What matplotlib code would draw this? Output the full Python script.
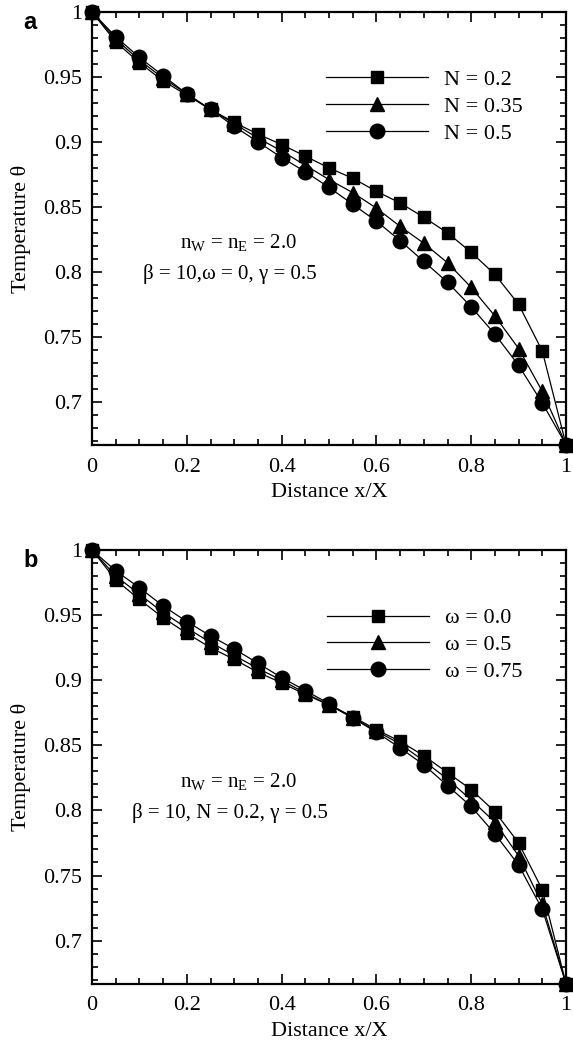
import numpy as np
import matplotlib
matplotlib.use("Agg")
import matplotlib.pyplot as plt
from matplotlib.ticker import MultipleLocator, FixedLocator

plt.rcParams['font.family'] = ['Liberation Serif', 'DejaVu Serif']
plt.rcParams['mathtext.fontset'] = 'custom'
plt.rcParams['mathtext.rm'] = 'Liberation Serif'

# distance x/X
x = [0.0, 0.05, 0.1, 0.15, 0.2, 0.25, 0.3, 0.35, 0.4, 0.45, 0.5,
     0.55, 0.6, 0.65, 0.7, 0.75, 0.8, 0.85, 0.9, 0.95, 1.0]

# panel a: effect of N
labels_a = ["N = 0.2", "N = 0.35", "N = 0.5"]
n02 = [1.0, 0.977, 0.961, 0.947, 0.936, 0.925, 0.915, 0.906, 0.898, 0.889, 0.880,
       0.872, 0.862, 0.853, 0.842, 0.830, 0.815, 0.798, 0.775, 0.739, 0.667]
n035 = [1.0, 0.979, 0.963, 0.949, 0.937, 0.925, 0.914, 0.903, 0.893, 0.882, 0.871,
        0.861, 0.849, 0.835, 0.822, 0.807, 0.788, 0.766, 0.741, 0.708, 0.667]
n05 = [1.0, 0.981, 0.965, 0.951, 0.937, 0.925, 0.912, 0.900, 0.888, 0.877, 0.865,
       0.852, 0.839, 0.824, 0.808, 0.792, 0.773, 0.752, 0.728, 0.699, 0.667]

# panel b: effect of omega
labels_b = ["ω = 0.0", "ω = 0.5", "ω = 0.75"]
w00 = [1.0, 0.977, 0.962, 0.948, 0.936, 0.925, 0.916, 0.906, 0.898, 0.889, 0.881,
       0.872, 0.862, 0.853, 0.842, 0.829, 0.816, 0.799, 0.775, 0.739, 0.667]
w05 = [1.0, 0.980, 0.966, 0.952, 0.940, 0.929, 0.919, 0.909, 0.900, 0.890, 0.881,
       0.871, 0.861, 0.851, 0.838, 0.824, 0.808, 0.791, 0.765, 0.728, 0.667]
w075 = [1.0, 0.984, 0.971, 0.957, 0.945, 0.934, 0.924, 0.913, 0.902, 0.892, 0.882,
        0.871, 0.860, 0.848, 0.835, 0.819, 0.803, 0.782, 0.758, 0.724, 0.667]

xticks = [0, 0.2, 0.4, 0.6, 0.8, 1.0]
xticklabels = ["0", "0.2", "0.4", "0.6", "0.8", "1"]
yticks = [0.7, 0.75, 0.8, 0.85, 0.9, 0.95, 1.0]
yticklabels = ["0.7", "0.75", "0.8", "0.85", "0.9", "0.95", "1"]

markers = ['s', '^', 'o']
msizes = [9, 9.5, 10.5]

fig = plt.figure(figsize=(5.73, 10.43), dpi=100)
ax_a = fig.add_axes([0.1606, 0.5733, 0.8272, 0.4152])
ax_b = fig.add_axes([0.1606, 0.0566, 0.8272, 0.4161])


def draw(ax, series, labels, note1, note2, tag):
    for ys, lab, m, ms in zip(series, labels, markers, msizes):
        ax.plot(x, ys, color='black', lw=0.9, marker=m, ms=ms,
                label=lab, clip_on=False, zorder=3)
    ax.set_xlim(0, 1)
    ax.set_ylim(0.6667, 1.0)
    ax.xaxis.set_major_locator(FixedLocator(xticks))
    ax.set_xticklabels(xticklabels)
    ax.xaxis.set_minor_locator(MultipleLocator(0.05))
    ax.yaxis.set_major_locator(FixedLocator(yticks))
    ax.set_yticklabels(yticklabels)
    ax.yaxis.set_minor_locator(MultipleLocator(0.01))
    ax.tick_params(which='both', direction='in', top=True, right=True,
                   labelsize=16, width=1.2)
    ax.tick_params(which='major', length=7)
    ax.tick_params(which='minor', length=4)
    ax.tick_params(axis='x', which='major', pad=9)
    ax.tick_params(axis='y', which='major', pad=7)
    for s in ax.spines.values():
        s.set_linewidth(1.6)
    ax.set_xlabel("Distance x/X", fontsize=16, labelpad=5)
    ax.set_ylabel("Temperature θ", fontsize=16, labelpad=9)
    ax.legend(loc='upper right', bbox_to_anchor=(0.95, 0.913),
              frameon=False, fontsize=16, handlelength=4.6,
              handletextpad=0.7, labelspacing=0.28)
    ax.text(0.308, 0.466, note1, transform=ax.transAxes, ha='center',
            va='center', fontsize=15)
    ax.text(0.29, 0.394, note2, transform=ax.transAxes, ha='center',
            va='center', fontsize=15)
    ax.text(-0.145, 0.975, tag, transform=ax.transAxes, ha='left', va='center',
            fontsize=17, fontweight='bold', family='Liberation Sans')


draw(ax_a, [n02, n035, n05], labels_a,
     r"n$_\mathrm{W}$ = n$_\mathrm{E}$ = 2.0",
     "β = 10,ω = 0, γ = 0.5", "a")
draw(ax_b, [w00, w05, w075], labels_b,
     r"n$_\mathrm{W}$ = n$_\mathrm{E}$ = 2.0",
     "β = 10, N = 0.2, γ = 0.5", "b")

fig.savefig("out.png", dpi=100)
